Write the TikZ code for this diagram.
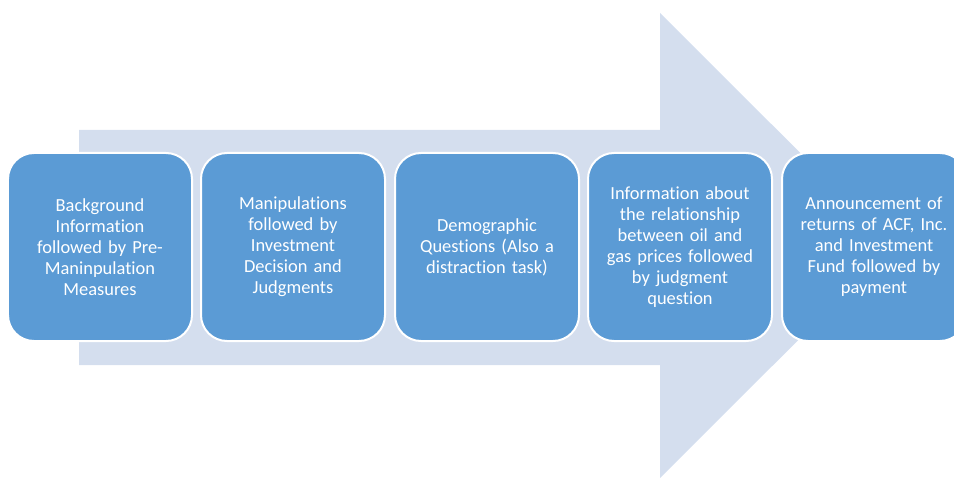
\documentclass[tikz,border=0pt]{standalone}
\usepackage{fontspec}
\setmainfont[Ligatures={NoCommon}]{Carlito}
\definecolor{arrowblue}{HTML}{D4DEEE}
\definecolor{boxblue}{HTML}{5B9BD5}
\begin{document}
\begin{tikzpicture}[x=1bp,y=-1bp,
  stepbox/.style={draw=white, line width=2bp, fill=boxblue, rounded corners=26bp,
    minimum width=184bp, minimum height=188bp, text width=170bp, align=center,
    text=white, inner sep=0pt, font=\fontsize{18.5}{21}\selectfont}]
\useasboundingbox (0,0) rectangle (954,478);
\clip (0,0) rectangle (954,478);
\fill[arrowblue] (79,130) -- (660,130) -- (660,13) -- (893,245.5) -- (660,478) -- (660,365) -- (79,365) -- cycle;
\node[stepbox] (b1) at (100,247) {Background\\Information\\followed by Pre-\\Maninpulation\\Measures};
\node[stepbox] (b2) at (293,247) {Manipulations\\followed by\\Investment\\Decision and\\Judgments};
\node[stepbox] (b3) at (487,247) {Demographic\\Questions (Also a\\distraction task)};
\node[stepbox] (b4) at (680,247) {Information about\\the relationship\\between oil and\\gas prices followed\\by judgment\\question};
\node[stepbox] (b5) at (874,247) {Announcement of\\returns of ACF, Inc.\\and Investment\\Fund followed by\\payment};
\end{tikzpicture}
\end{document}
